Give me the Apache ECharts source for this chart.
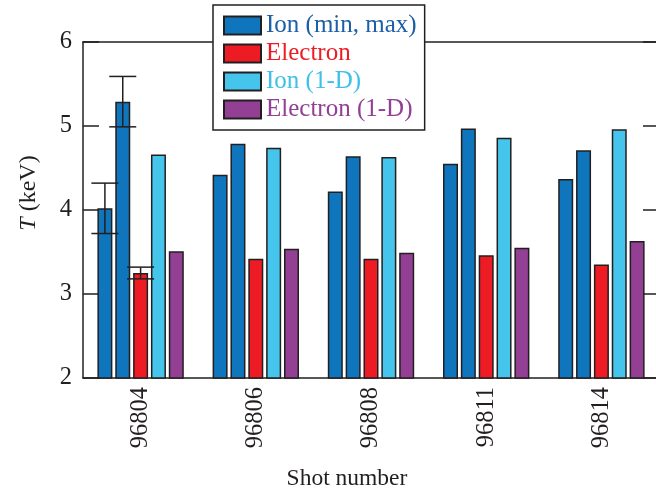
<!DOCTYPE html>
<html>
<head>
<meta charset="utf-8">
<script src="https://cdn.jsdelivr.net/npm/echarts@6/dist/echarts.min.js"></script>
<style>
  html, body { margin: 0; padding: 0; background: #fff; }
  #main { width: 656px; height: 492px; }
</style>
</head>
<body>
<div id="main"></div>
<script>
// shot numbers along x
var shots = ['96804', '96806', '96808', '96811', '96814'];
// temperatures in keV
var ionMin = [4.02, 4.42, 4.22, 4.55, 4.37];
var ionMax = [5.29, 4.79, 4.64, 4.97, 4.71];
var electron = [3.25, 3.42, 3.42, 3.46, 3.35];
var ion1D = [4.66, 4.74, 4.63, 4.86, 4.96];
var electron1D = [3.51, 3.54, 3.49, 3.55, 3.63];
// error half-widths (only first shot has them)
var ionMinErr = [0.30, null, null, null, null];
var ionMaxErr = [0.30, null, null, null, null];
var electronErr = [0.07, null, null, null, null];
var yTicks = [2, 3, 4, 5, 6];

var ink = '#231f20';
var font = 'Liberation Serif';
var barW = 15;
var gapRatio = 0.19;

function bar(name, data, color) {
    return {
        name: name,
        type: 'bar',
        data: data,
        barWidth: barW,
        barGap: (gapRatio * 100) + '%',
        itemStyle: { color: color, borderColor: ink, borderWidth: 1.5 },
        z: 2
    };
}

// error bar points: [category, low, high, slot]
var errData = [];
[[ionMin, ionMinErr, -2], [ionMax, ionMaxErr, -1], [electron, electronErr, 0]].forEach(function (s) {
    s[0].forEach(function (v, i) {
        if (s[1][i] != null) errData.push([i, v - s[1][i], v + s[1][i], s[2]]);
    });
});

var myChart = echarts.init(document.getElementById('main'));
var option = {
    animation: false,
    textStyle: { fontFamily: font },
    grid: { left: 83, top: 42, width: 576, height: 336, outerBoundsMode: 'none' },
    legend: {
        orient: 'vertical',
        left: 213,
        top: 5,
        z: 10,
        icon: 'rect',
        itemWidth: 37,
        itemHeight: 18,
        itemGap: 3,
        padding: [8, 8, 8, 10],
        backgroundColor: '#fff',
        borderColor: ink,
        borderWidth: 1.5,
        selectedMode: false,
        textStyle: { fontFamily: font, fontSize: 25 },
        data: [
            { name: 'Ion (min, max)', textStyle: { color: '#1c5ea8' } },
            { name: 'Electron', textStyle: { color: '#ed1c24' } },
            { name: 'Ion (1-D)', textStyle: { color: '#3fc0ea' } },
            { name: 'Electron (1-D)', textStyle: { color: '#923f94' } }
        ]
    },
    xAxis: [
        {
            type: 'category',
            data: shots,
            position: 'bottom',
            axisLine: { lineStyle: { color: ink, width: 1.5 } },
            axisTick: { inside: true, alignWithLabel: true, length: 16, lineStyle: { color: ink, width: 1.5 } },
            axisLabel: { rotate: 90, margin: 9, fontSize: 24.5, color: ink, fontFamily: font },
            name: 'Shot number',
            nameLocation: 'middle',
            nameGap: 89,
            nameTextStyle: { fontSize: 23.5, color: ink, fontFamily: font, padding: [0, 48, 0, 0] }
        },
        {
            type: 'category',
            data: shots,
            position: 'top',
            axisLine: { lineStyle: { color: ink, width: 1.5 } },
            axisTick: { inside: true, alignWithLabel: true, length: 14, lineStyle: { color: ink, width: 1.5 } },
            axisLabel: { show: false }
        }
    ],
    yAxis: [
        {
            type: 'value',
            min: yTicks[0],
            max: yTicks[yTicks.length - 1],
            interval: 1,
            position: 'left',
            splitLine: { show: false },
            axisLine: { show: true, lineStyle: { color: ink, width: 1.5 } },
            axisTick: { show: true, inside: true, length: 16, lineStyle: { color: ink, width: 1.5 } },
            axisLabel: { margin: 11, fontSize: 24.5, color: ink, fontFamily: font },
            name: '{i|T} (keV)',
            nameLocation: 'middle',
            nameGap: 42,
            nameRotate: 90,
            nameTextStyle: {
                fontSize: 24, color: ink, fontFamily: font,
                padding: [0, 0, 0, 34],
                rich: { i: { fontStyle: 'italic', fontSize: 24, color: ink, fontFamily: font } }
            }
        },
        {
            type: 'value',
            min: yTicks[0],
            max: yTicks[yTicks.length - 1],
            interval: 1,
            position: 'right',
            splitLine: { show: false },
            axisLine: { show: true, lineStyle: { color: ink, width: 1.5 } },
            axisTick: { show: true, inside: true, length: 16, lineStyle: { color: ink, width: 1.5 } },
            axisLabel: { show: false }
        }
    ],
    series: [
        bar('Ion (min, max)', ionMin, '#0f75bc'),
        bar('Ion (min, max)', ionMax, '#0f75bc'),
        bar('Electron', electron, '#ed1c24'),
        bar('Ion (1-D)', ion1D, '#45c5ec'),
        bar('Electron (1-D)', electron1D, '#923f94'),
        {
            type: 'custom',
            name: 'err',
            data: errData,
            z: 5,
            renderItem: function (params, api) {
                var c = api.value(0);
                var lo = api.coord([c, api.value(1)]);
                var hi = api.coord([c, api.value(2)]);
                var x = hi[0] + api.value(3) * barW * (1 + gapRatio);
                var cap = 13.5;
                var st = { stroke: ink, lineWidth: 1.5 };
                return {
                    type: 'group',
                    children: [
                        { type: 'line', shape: { x1: x, y1: lo[1], x2: x, y2: hi[1] }, style: st },
                        { type: 'line', shape: { x1: x - cap, y1: lo[1], x2: x + cap, y2: lo[1] }, style: st },
                        { type: 'line', shape: { x1: x - cap, y1: hi[1], x2: x + cap, y2: hi[1] }, style: st }
                    ]
                };
            }
        }
    ]
};
myChart.setOption(option);
</script>
</body>
</html>
